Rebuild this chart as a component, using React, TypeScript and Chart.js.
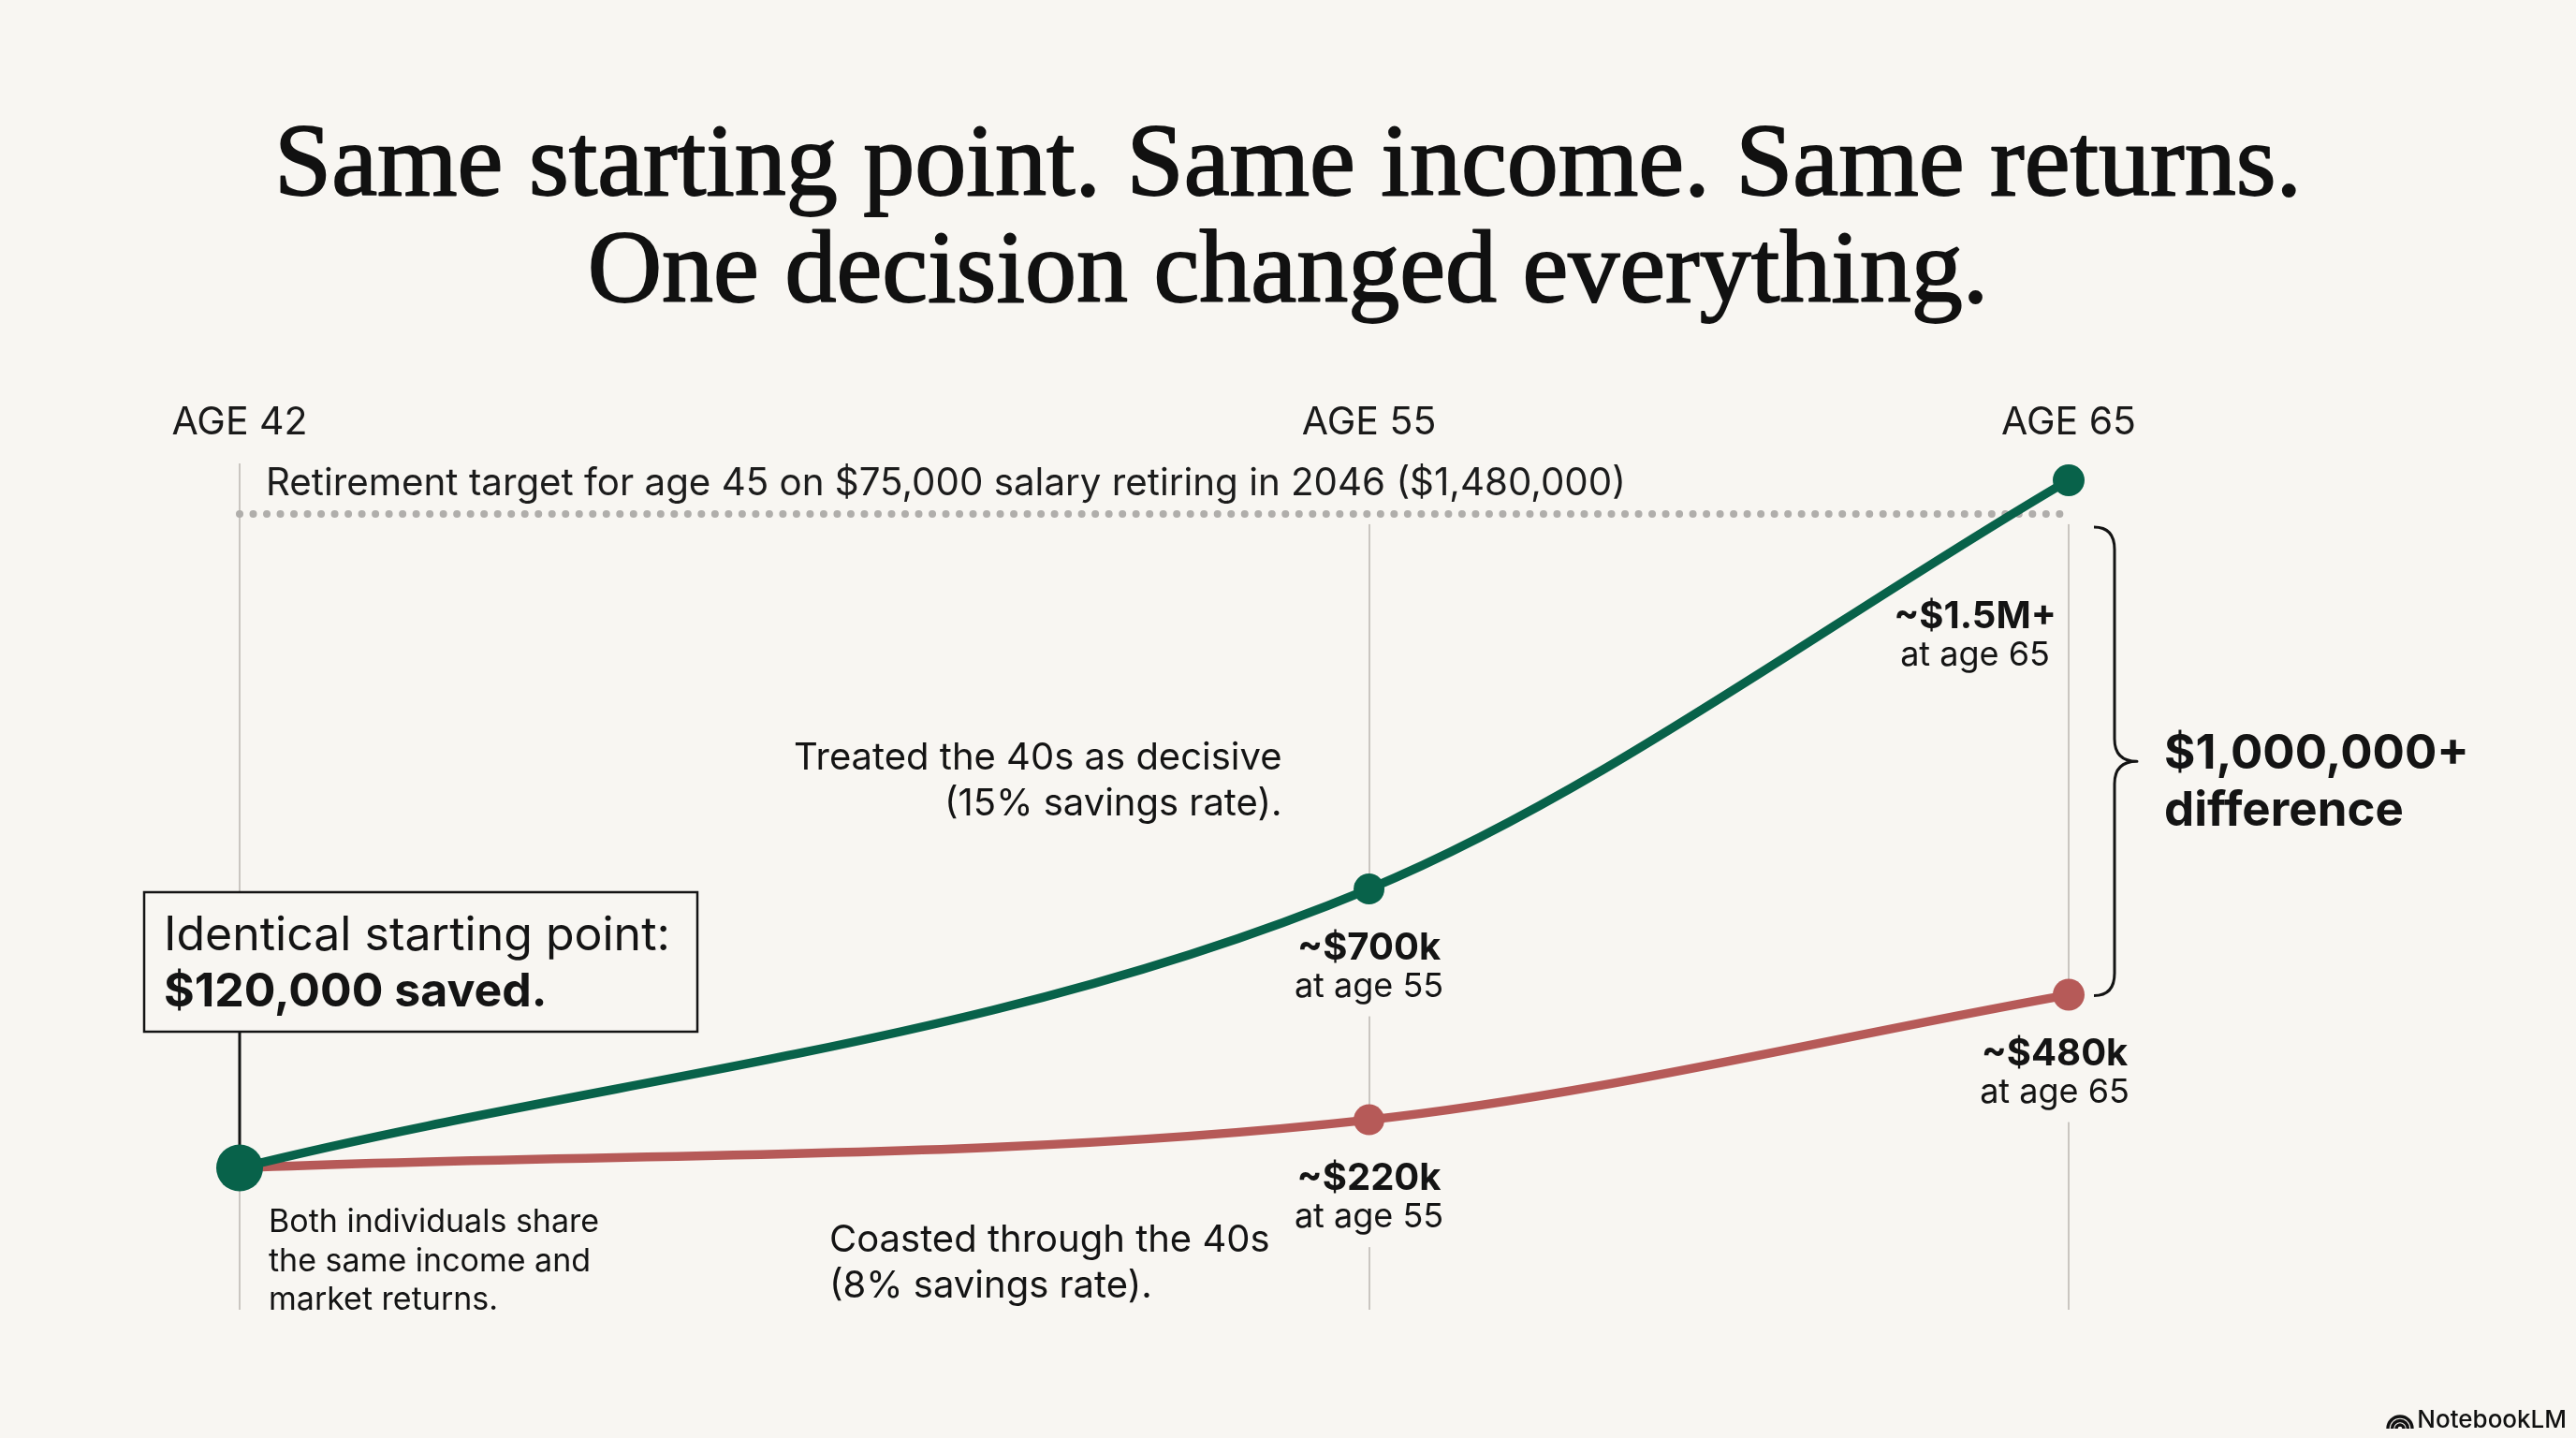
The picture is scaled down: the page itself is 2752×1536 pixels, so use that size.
import React, { useEffect, useRef } from 'react';
import { Chart, registerables } from 'chart.js';

Chart.register(...registerables);

// ---------------- data ----------------
const AGES = [42, 55, 65];
const AGE_TICK_LABELS = ['AGE 42', 'AGE 55', 'AGE 65'];
const DECISIVE_SAVINGS = [120000, 700000, 1550000]; // treated the 40s as decisive (15%)
const COASTED_SAVINGS = [120000, 220000, 480000]; // coasted through the 40s (8%)
const DECISIVE_VALUE_LABELS = ['', '~$700k', '~$1.5M+'];
const COASTED_VALUE_LABELS = ['', '~$220k', '~$480k'];
const VALUE_SUBLABELS = ['', 'at age 55', 'at age 65'];
const RETIREMENT_TARGET = 1480000;
const TARGET_AGES = [42, 65];

const TITLE_LINES = [
  'Same starting point. Same income. Same returns.',
  'One decision changed everything.',
];
const TARGET_LABEL = 'Retirement target for age 45 on $75,000 salary retiring in 2046 ($1,480,000)';
const START_BOX_LINES = ['Identical starting point:', '$120,000 saved.'];
const SHARED_NOTE = ['Both individuals share', 'the same income and', 'market returns.'];
const DECISIVE_NOTE = ['Treated the 40s as decisive', '(15% savings rate).'];
const COASTED_NOTE = ['Coasted through the 40s', '(8% savings rate).'];
const DIFFERENCE_LINES = ['$1,000,000+', 'difference'];

// ---------------- style ----------------
const W = 2752;
const H = 1536;
const BG = '#F8F6F2';
const INK = '#141414';
const GREEN = '#08624A';
const RED = '#B65A58';
const GRID = '#CAC6C1';
const DOTS = '#B0AEAB';
const SANS = 'Inter, "Noto Sans", Roboto, sans-serif';
const SERIF = '"Liberation Serif", "DejaVu Serif", serif';

function txt(ctx: CanvasRenderingContext2D, s: string, x: number, y: number, font: string, align: CanvasTextAlign = 'left', color = INK) {
  ctx.font = font;
  ctx.textAlign = align;
  ctx.textBaseline = 'alphabetic';
  ctx.fillStyle = color;
  ctx.fillText(s, x, y);
}

const decorPlugin = {
  id: 'decor',
  beforeDraw(chart: any) {
    const { ctx, width, height } = chart;
    ctx.save();
    ctx.fillStyle = BG;
    ctx.fillRect(0, 0, width, height);
    ctx.restore();
  },
  beforeDatasetsDraw(chart: any) {
    const { ctx, chartArea, scales } = chart;
    const x = scales.x;
    const y = scales.y;
    const targetY = y.getPixelForValue(RETIREMENT_TARGET);
    ctx.save();
    ctx.fillStyle = BG;
    // grid lines of ages 55 / 65 start below the target line
    for (let i = 1; i < AGES.length; i++) {
      const px = x.getPixelForValue(AGES[i]);
      ctx.fillRect(px - 4, chartArea.top - 2, 8, targetY + 11 - chartArea.top + 2);
    }
    // gaps behind the value labels centred below the points
    const gapPoints = [
      [AGES[1], DECISIVE_SAVINGS[1]],
      [AGES[1], COASTED_SAVINGS[1]],
      [AGES[2], COASTED_SAVINGS[2]],
    ];
    gapPoints.forEach(([a, v]) => {
      const px = x.getPixelForValue(a);
      const py = y.getPixelForValue(v);
      ctx.fillRect(px - 4, py, 8, 136);
    });

    // starting-point box and connector
    const x42 = x.getPixelForValue(AGES[0]);
    const startY = y.getPixelForValue(DECISIVE_SAVINGS[0]);
    const bl = x42 - 102;
    const bt = 953;
    const bw = 591;
    const bh = 149;
    ctx.fillStyle = BG;
    ctx.fillRect(bl, bt, bw, bh);
    ctx.strokeStyle = INK;
    ctx.lineWidth = 2.5;
    ctx.strokeRect(bl, bt, bw, bh);
    ctx.beginPath();
    ctx.moveTo(x42, bt + bh);
    ctx.lineTo(x42, startY);
    ctx.lineWidth = 3;
    ctx.stroke();
    txt(ctx, START_BOX_LINES[0], bl + 21, bt + 62, `400 50px ${SANS}`);
    txt(ctx, START_BOX_LINES[1], bl + 21, bt + 122, `700 50px ${SANS}`);
    ctx.restore();
  },
  afterDraw(chart: any) {
    const { ctx, width, scales } = chart;
    const x = scales.x;
    const y = scales.y;
    ctx.save();

    // title (a thin outline gives the heavier headline weight)
    ctx.strokeStyle = '#111111';
    ctx.lineWidth = 1.8;
    ctx.lineJoin = 'round';
    TITLE_LINES.forEach((line, i) => {
      const by = 208 + i * 114;
      txt(ctx, line, width / 2, by, `400 110px ${SERIF}`, 'center', '#111111');
      ctx.strokeText(line, width / 2, by);
    });

    const x42 = x.getPixelForValue(AGES[0]);
    const x55 = x.getPixelForValue(AGES[1]);
    const x65 = x.getPixelForValue(AGES[2]);

    // target label
    const targetY = y.getPixelForValue(RETIREMENT_TARGET);
    txt(ctx, TARGET_LABEL, x42 + 28, targetY - 20, `400 40.3px ${SANS}`, 'left', '#1c1c1c');

    // value labels below the points at age 55 / 65
    const g55 = y.getPixelForValue(DECISIVE_SAVINGS[1]);
    txt(ctx, DECISIVE_VALUE_LABELS[1], x55, g55 + 75, `700 40px ${SANS}`, 'center');
    txt(ctx, VALUE_SUBLABELS[1], x55, g55 + 115, `400 36px ${SANS}`, 'center');

    const r55 = y.getPixelForValue(COASTED_SAVINGS[1]);
    txt(ctx, COASTED_VALUE_LABELS[1], x55, r55 + 75, `700 40px ${SANS}`, 'center');
    txt(ctx, VALUE_SUBLABELS[1], x55, r55 + 115, `400 36px ${SANS}`, 'center');

    const r65 = y.getPixelForValue(COASTED_SAVINGS[2]);
    txt(ctx, COASTED_VALUE_LABELS[2], x65 - 15, r65 + 75, `700 40px ${SANS}`, 'center');
    txt(ctx, VALUE_SUBLABELS[2], x65 - 15, r65 + 115, `400 36px ${SANS}`, 'center');

    const g65 = y.getPixelForValue(DECISIVE_SAVINGS[2]);
    txt(ctx, DECISIVE_VALUE_LABELS[2], x65 - 100, g65 + 158, `700 40px ${SANS}`, 'center');
    txt(ctx, VALUE_SUBLABELS[2], x65 - 100, g65 + 198, `400 36px ${SANS}`, 'center');

    // series notes
    txt(ctx, DECISIVE_NOTE[0], x55 - 93, 822, `400 40px ${SANS}`, 'right');
    txt(ctx, DECISIVE_NOTE[1], x55 - 93, 871, `400 40px ${SANS}`, 'right');
    txt(ctx, COASTED_NOTE[0], x42 + 630, 1337, `400 40px ${SANS}`, 'left');
    txt(ctx, COASTED_NOTE[1], x42 + 630, 1386, `400 40px ${SANS}`, 'left');
    SHARED_NOTE.forEach((s, i) => txt(ctx, s, x42 + 31, 1316 + i * 41.5, `400 34px ${SANS}`, 'left'));

    // brace between the two age-65 values
    const x0 = x65 + 27;
    const xm = x65 + 49;
    const xt = x65 + 73;
    const yTop = g65 + 50;
    const yBot = r65 + 1;
    const yMid = (yTop + yBot) / 2;
    const rr = 24;
    ctx.beginPath();
    ctx.moveTo(x0, yTop);
    ctx.quadraticCurveTo(xm, yTop, xm, yTop + rr);
    ctx.lineTo(xm, yMid - rr);
    ctx.quadraticCurveTo(xm, yMid, xt, yMid);
    ctx.quadraticCurveTo(xm, yMid, xm, yMid + rr);
    ctx.lineTo(xm, yBot - rr);
    ctx.quadraticCurveTo(xm, yBot, x0, yBot);
    ctx.strokeStyle = INK;
    ctx.lineWidth = 3;
    ctx.lineJoin = 'round';
    ctx.stroke();
    txt(ctx, DIFFERENCE_LINES[0], x65 + 102, yMid + 8, `700 51px ${SANS}`, 'left');
    txt(ctx, DIFFERENCE_LINES[1], x65 + 102, yMid + 69, `700 51px ${SANS}`, 'left');

    // NotebookLM mark
    txt(ctx, 'NotebookLM', W - 10, 1525, `500 26px ${SANS}`, 'right', '#111111');
    ctx.strokeStyle = '#111111';
    ctx.lineWidth = 3.4;
    ctx.lineCap = 'butt';
    [13, 8.5, 4].forEach((r) => {
      ctx.beginPath();
      ctx.arc(2564, 1526, r, Math.PI, 2 * Math.PI);
      ctx.stroke();
    });
    ctx.restore();
  },
};

export default function App() {
  const canvasRef = useRef<HTMLCanvasElement>(null);

  useEffect(() => {
    document.body.style.margin = '0';
    document.body.style.background = BG;
    const canvas = canvasRef.current;
    if (!canvas) return;

    const chart = new Chart(canvas, {
      type: 'line',
      data: {
        datasets: [
          {
            label: 'Treated the 40s as decisive (15% savings rate)',
            data: AGES.map((a, i) => ({ x: a, y: DECISIVE_SAVINGS[i] })),
            borderColor: GREEN,
            backgroundColor: GREEN,
            borderWidth: 9.5,
            borderCapStyle: 'round',
            cubicInterpolationMode: 'monotone',
            pointRadius: [25, 16.5, 17],
            pointBackgroundColor: GREEN,
            pointBorderWidth: 0,
            clip: false,
          },
          {
            label: 'Coasted through the 40s (8% savings rate)',
            data: AGES.map((a, i) => ({ x: a, y: COASTED_SAVINGS[i] })),
            borderColor: RED,
            backgroundColor: RED,
            borderWidth: 9.5,
            borderCapStyle: 'round',
            cubicInterpolationMode: 'monotone',
            pointRadius: [0, 16.5, 17],
            pointBackgroundColor: RED,
            pointBorderWidth: 0,
            clip: false,
          },
          {
            label: 'Retirement target',
            data: TARGET_AGES.map((a) => ({ x: a, y: RETIREMENT_TARGET })),
            borderColor: DOTS,
            borderWidth: 8,
            borderDash: [0.01, 14.5],
            borderCapStyle: 'round',
            pointRadius: 0,
            tension: 0,
            clip: false,
          },
        ],
      },
      options: {
        responsive: false,
        animation: false,
        devicePixelRatio: 1,
        events: [],
        layout: { padding: { top: 395, left: 256, right: 542, bottom: 137 } },
        plugins: {
          legend: { display: false },
          title: { display: false },
          tooltip: { enabled: false },
        },
        scales: {
          x: {
            type: 'logarithmic',
            position: 'top',
            min: AGES[0],
            max: AGES[AGES.length - 1],
            afterBuildTicks: (scale: any) => {
              scale.ticks = AGES.map((v) => ({ value: v }));
            },
            afterFit: (scale: any) => {
              scale.height = 100;
            },
            ticks: {
              autoSkip: false,
              maxRotation: 0,
              padding: 19,
              color: '#1a1a1a',
              font: { family: SANS, size: 41, weight: '400' },
              callback: (_v: any, i: number) => AGE_TICK_LABELS[i],
            },
            grid: { color: GRID, lineWidth: 2, drawTicks: false },
            border: { display: false },
          },
          y: {
            type: 'linear',
            display: false,
            min: -175000,
            max: 1585000,
          },
        },
      },
      plugins: [decorPlugin],
    } as any);

    let alive = true;
    const fonts: any = (document as any).fonts;
    if (fonts && fonts.load) {
      Promise.all([
        fonts.load(`400 40px Inter`),
        fonts.load(`700 40px Inter`),
        fonts.load(`500 26px Inter`),
        fonts.load(`400 110px "Liberation Serif"`),
      ])
        .catch(() => undefined)
        .then(() => {
          if (alive) chart.update('none');
        });
    }
    return () => {
      alive = false;
      chart.destroy();
    };
  }, []);

  return <canvas ref={canvasRef} width={W} height={H} style={{ display: 'block', width: W, height: H }} />;
}
